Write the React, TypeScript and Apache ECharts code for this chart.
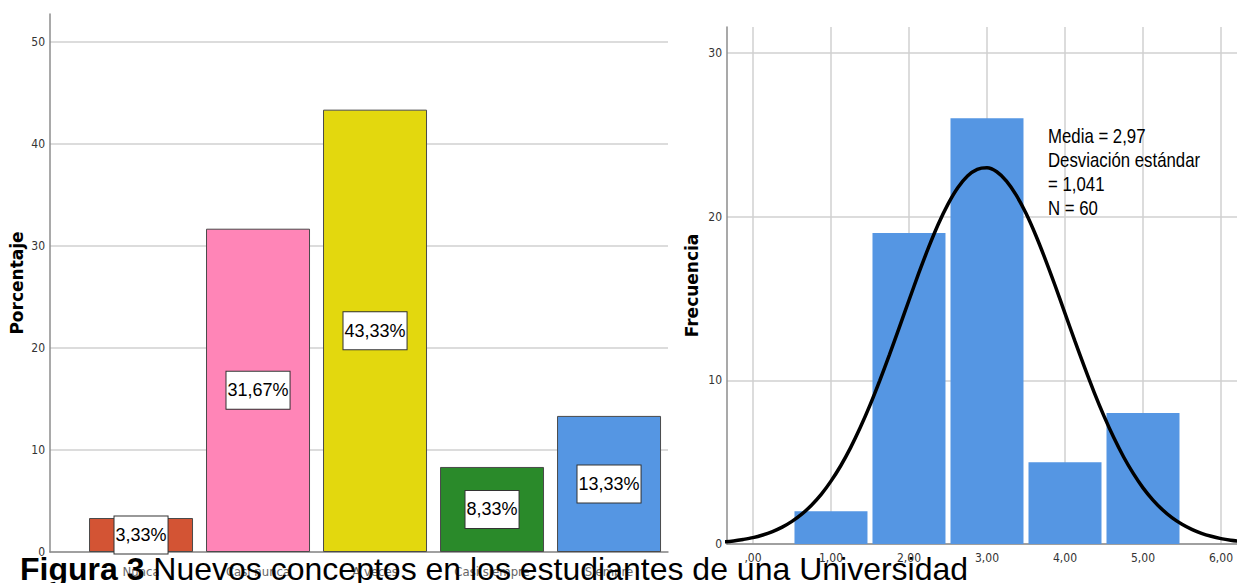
import React, { useEffect, useRef } from "react";
import * as echarts from "echarts";

// ---- Data ----
const CATEGORIES = ["Nunca", "Casi nunca", "A veces", "Casi siempre", "Siempre"];
const PERCENTS = [3.33, 31.67, 43.33, 8.33, 13.33];
const PERCENT_TICKS = [0, 10, 20, 30, 40, 50];

const BIN_CENTERS = [1, 2, 3, 4, 5];
const FREQUENCIES = [2, 19, 26, 5, 8];
const FREQ_TICKS = [0, 10, 20, 30];
const X_TICKS = [0, 1, 2, 3, 4, 5, 6];
const X_TICK_LABELS = [",00", "1,00", "2,00", "3,00", "4,00", "5,00", "6,00"];

// Normal curve
const CURVE_X = [
  -0.5, -0.375, -0.25, -0.125, 0, 0.125, 0.25, 0.375, 0.5, 0.625, 0.75, 0.875,
  1, 1.125, 1.25, 1.375, 1.5, 1.625, 1.75, 1.875, 2, 2.125, 2.25, 2.375,
  2.5, 2.625, 2.75, 2.875, 3, 3.125, 3.25, 3.375, 3.5, 3.625, 3.75, 3.875,
  4, 4.125, 4.25, 4.375, 4.5, 4.625, 4.75, 4.875, 5, 5.125, 5.25, 5.375,
  5.5, 5.625, 5.75, 5.875, 6, 6.125, 6.25, 6.375, 6.5,
];
const CURVE_Y = [
  0.09, 0.13, 0.19, 0.28, 0.39, 0.55, 0.76, 1.03, 1.38, 1.82, 2.37, 3.03,
  3.84, 4.78, 5.87, 7.11, 8.48, 9.98, 11.57, 13.22, 14.89, 16.54, 18.1, 19.53,
  20.76, 21.76, 22.48, 22.89, 22.98, 22.74, 22.17, 21.31, 20.2, 18.86, 17.36, 15.76,
  14.09, 12.42, 10.8, 9.25, 7.81, 6.5, 5.33, 4.31, 3.43, 2.7, 2.09, 1.59,
  1.2, 0.89, 0.65, 0.47, 0.33, 0.23, 0.16, 0.11, 0.07,
];

const STATS_LINES = ["Media = 2,97", "Desviación estándar", "= 1,041", "N = 60"];
const CAPTION_BOLD = "Figura 3";
const CAPTION_TEXT = "Nuevos conceptos en los estudiantes de una Universidad";

// ---- Styles ----
const BAR_COLORS = ["#D35434", "#FF85B7", "#E3D80E", "#2A8A2A", "#5596E3"];
const HIST_COLOR = "#5596E3";
const NARROW = "'DejaVu Sans Condensed', 'Liberation Sans', sans-serif";
const SANS = "'Liberation Sans', Arial, sans-serif";
const BOLD_NAME = "'DejaVu Sans', sans-serif";
const AXIS_COLOR = "#8c8c8c";
const GRID_COLOR = "#d0d0d0";

export default function App() {
  const ref = useRef<HTMLDivElement>(null);

  useEffect(() => {
    if (!ref.current) return;
    const chart = echarts.init(ref.current, null, { renderer: "svg" });

    const option: any = {
      animation: false,
      backgroundColor: "#ffffff",
      grid: [
        { left: 50, top: 14, width: 618, height: 538 },
        { left: 727, top: 27, width: 510, height: 517 },
      ],
      xAxis: [
        {
          gridIndex: 0,
          type: "value",
          min: -0.778,
          max: 4.504,
          axisLine: { show: true, onZero: false, lineStyle: { color: AXIS_COLOR, width: 1.5 } },
          axisTick: { show: false, customValues: [0, 1, 2, 3, 4] },
          axisLabel: {
            customValues: [0, 1, 2, 3, 4],
            formatter: (v: number) => CATEGORIES[Math.round(v)],
            color: "#666",
            fontSize: 13,
            fontFamily: NARROW,
            margin: 13,
          },
          splitLine: { show: false },
        },
        {
          gridIndex: 1,
          type: "value",
          min: -0.333,
          max: 6.205,
          axisLine: { show: true, onZero: false, lineStyle: { color: AXIS_COLOR, width: 1.5 } },
          axisTick: { show: false, customValues: X_TICKS },
          axisLabel: {
            customValues: X_TICKS,
            formatter: (v: number) => X_TICK_LABELS[X_TICKS.indexOf(Math.round(v))],
            color: "#333",
            fontSize: 12,
            fontFamily: NARROW,
            margin: 8,
          },
          splitLine: { show: true, lineStyle: { color: GRID_COLOR, width: 1.5 } },
        },
      ],
      yAxis: [
        {
          gridIndex: 0,
          type: "value",
          min: 0,
          max: 52.7,
          name: "Porcentaje",
          nameLocation: "middle",
          nameGap: 25,
          nameTextStyle: { fontFamily: BOLD_NAME, fontWeight: "bold", fontSize: 17, color: "#000" },
          axisLine: { show: true, onZero: false, lineStyle: { color: AXIS_COLOR, width: 1.5 } },
          axisTick: { show: false, customValues: PERCENT_TICKS },
          axisLabel: { customValues: PERCENT_TICKS, color: "#333", fontSize: 12, fontFamily: NARROW, margin: 5 },
          splitLine: { show: true, lineStyle: { color: GRID_COLOR, width: 1.5 } },
        },
        {
          gridIndex: 1,
          type: "value",
          min: 0,
          max: 31.58,
          name: "Frecuencia",
          nameLocation: "middle",
          nameGap: 27,
          nameTextStyle: { fontFamily: BOLD_NAME, fontWeight: "bold", fontSize: 17, color: "#000" },
          axisLine: { show: true, onZero: false, lineStyle: { color: AXIS_COLOR, width: 1.5 } },
          axisTick: { show: false, customValues: FREQ_TICKS },
          axisLabel: { customValues: FREQ_TICKS, color: "#333", fontSize: 12, fontFamily: NARROW, margin: 5 },
          splitLine: { show: true, lineStyle: { color: GRID_COLOR, width: 1.5 } },
        },
      ],
      series: [
        {
          type: "bar",
          xAxisIndex: 0,
          yAxisIndex: 0,
          barWidth: 104,
          data: PERCENTS.map((v, i) => ({
            value: [i, v],
            itemStyle: { color: BAR_COLORS[i], borderColor: "#4a4a4a", borderWidth: 1 },
          })),
          label: {
            show: true,
            position: "inside",
            formatter: (p: any) => p.value[1].toFixed(2).replace(".", ",") + "%",
            color: "#000",
            fontFamily: SANS,
            fontSize: 18,
            lineHeight: 20,
            backgroundColor: "#ffffff",
            borderColor: "#333",
            borderWidth: 1,
            padding: [9, 1, 8, 1],
          },
        },
        {
          type: "bar",
          xAxisIndex: 1,
          yAxisIndex: 1,
          barWidth: 73,
          itemStyle: { color: HIST_COLOR },
          data: BIN_CENTERS.map((c, i) => [c, FREQUENCIES[i]]),
        },
        {
          type: "line",
          xAxisIndex: 1,
          yAxisIndex: 1,
          smooth: 0.3,
          symbol: "none",
          z: 5,
          lineStyle: { color: "#000", width: 3.5 },
          data: CURVE_X.map((x, i) => [x, CURVE_Y[i]]),
        },
      ],
      graphic: [
        {
          type: "text",
          x: 1048,
          y: 124,
          z: 10,
          scaleX: 0.84,
          style: {
            text: STATS_LINES.join("\n"),
            font: `20px ${SANS}`,
            lineHeight: 24,
            fill: "#000",
            verticalAlign: "top",
          },
        },
        {
          type: "text",
          x: 20,
          y: 553,
          z: 20,
          style: {
            text: `{b|${CAPTION_BOLD}} ${CAPTION_TEXT}`,
            fill: "#000",
            font: `32px ${SANS}`,
            lineHeight: 32,
            verticalAlign: "top",
            rich: {
              b: { fontFamily: SANS, fontSize: 32, fontWeight: "bold", fill: "#000", lineHeight: 32 },
            },
          },
        },
      ],
    };

    chart.setOption(option);
    return () => chart.dispose();
  }, []);

  return (
    <div
      ref={ref}
      style={{ position: "absolute", left: 0, top: 0, width: 1237, height: 583, background: "#fff" }}
    />
  );
}
